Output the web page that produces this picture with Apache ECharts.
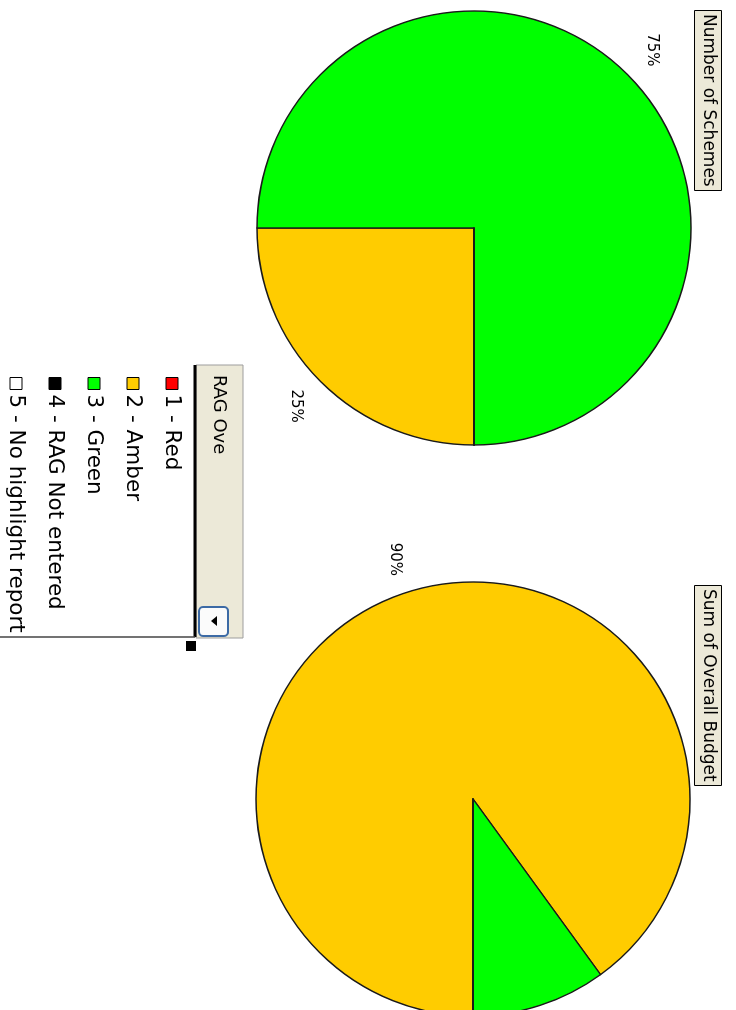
<!DOCTYPE html>
<html><head><meta charset="utf-8">
<script src="https://cdn.jsdelivr.net/npm/echarts@6/dist/echarts.min.js"></script>
<style>
html,body{margin:0;padding:0;background:#fff;overflow:hidden;width:736px;height:1010px}
#c{position:absolute;left:0;top:0;width:1010px;height:736px;transform-origin:0 0;transform:translate(736px,0) rotate(90deg);}
</style></head><body><div id="c"></div>
<script>
// ---- data ----
const categories = ['1 - Red', '2 - Amber', '3 - Green', '4 - RAG Not entered', '5 - No highlight report'];
const sliceColors = ['#FF0000', '#FFCC00', '#00FF00', '#000000', '#FFFFFF'];
const chartTitles = ['Number of Schemes', 'Sum of Overall Budget'];
const schemesValues = [0, 1, 3, 0, 0];
const budgetValues = [0, 90, 10, 0, 0];
const legendTitle = 'RAG Ove';

const FONT = 'DejaVu Sans';
const chart = echarts.init(document.getElementById('c'));

function pieData(values) {
  return categories.map((name, i) => ({ name: name, value: values[i] }));
}
function pieSeries(values, center) {
  return [{
    type: 'pie', center: center, radius: 217, startAngle: 0, clockwise: true,
    silent: true, animation: false,
    label: { show: false }, labelLine: { show: false },
    itemStyle: { borderColor: '#1a1a1a', borderWidth: 1.4 },
    data: pieData(values)
  }, {
    type: 'pie', center: center, radius: [217, 281], startAngle: 0, clockwise: true,
    silent: true, animation: false,
    itemStyle: { color: 'rgba(0,0,0,0)', borderWidth: 0 },
    label: {
      show: true, position: 'inside', color: '#000', fontFamily: FONT, fontSize: 15,
      formatter: p => p.value ? Math.round(p.percent) + '%' : ''
    },
    labelLine: { show: false },
    data: pieData(values)
  }];
}

const titleStyle = { fontFamily: FONT, fontSize: 17, fontWeight: 'normal', color: '#000', lineHeight: 20 };

chart.setOption({
  animation: false,
  backgroundColor: '#fff',
  color: sliceColors,
  title: [
    { text: chartTitles[0], left: 10, top: 14, padding: [4, 4, 4, 4], backgroundColor: '#ECE9D8', borderColor: '#000', borderWidth: 1, textStyle: titleStyle },
    { text: chartTitles[1], left: 585, top: 14, padding: [4, 4, 4, 4], backgroundColor: '#ECE9D8', borderColor: '#000', borderWidth: 1, textStyle: titleStyle }
  ],
  legend: {
    orient: 'vertical', left: 377, top: 551, padding: 0, itemWidth: 12, itemHeight: 12, itemGap: 13,
    icon: 'rect', selectedMode: false, data: categories,
    itemStyle: { borderColor: '#000', borderWidth: 1 },
    textStyle: { fontFamily: FONT, fontSize: 21.5, color: '#000', lineHeight: 26 }
  },
  graphic: [
    { type: 'rect', shape: { x: 365, y: 493, width: 273, height: 47 }, style: { fill: '#ECE9D8', stroke: '#9D9D9D', lineWidth: 1 } },
    { type: 'text', x: 375, y: 517, style: { text: legendTitle, fontFamily: FONT, fontSize: 18, fill: '#000', verticalAlign: 'middle' } },
    { type: 'rect', shape: { x: 607, y: 508, width: 29, height: 29, r: 4 }, style: { fill: '#FBFBFB', stroke: '#3C6AA5', lineWidth: 2 } },
    { type: 'polygon', shape: { points: [[616, 519], [626, 519], [621, 525]] }, style: { fill: '#000' } },
    { type: 'line', shape: { x1: 365, y1: 541, x2: 637, y2: 541 }, style: { stroke: '#000', lineWidth: 3 } },
    { type: 'line', shape: { x1: 637, y1: 541, x2: 637, y2: 736 }, style: { stroke: '#444', lineWidth: 1.5 } },
    { type: 'rect', shape: { x: 641, y: 540, width: 10, height: 10 }, style: { fill: '#000' } }
  ],
  series: [].concat(pieSeries(schemesValues, [228, 262]), pieSeries(budgetValues, [799, 263]))
});
</script></body></html>
